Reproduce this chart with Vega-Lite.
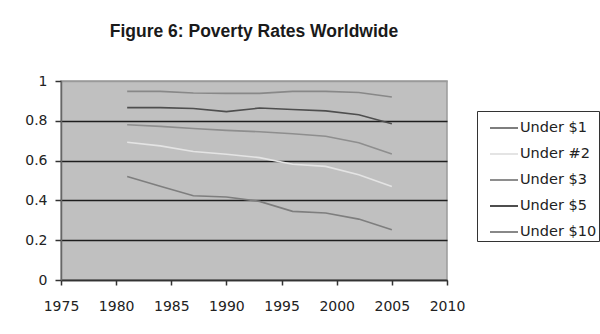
{
  "$schema": "https://vega.github.io/schema/vega-lite/v6.json",
  "autosize": "none",
  "width": 386,
  "height": 199,
  "padding": {"left": 61, "top": 81, "right": 153, "bottom": 54},
  "background": "white",
  "title": {
    "text": "Figure 6: Poverty Rates Worldwide",
    "font": "Liberation Sans",
    "fontSize": 17.5,
    "fontWeight": "bold",
    "color": "#1a1a1a",
    "anchor": "middle",
    "frame": "group",
    "offset": 34
  },
  "data": {
    "values": [
      {"year": 1981, "line": "Under $1", "rate": 0.52},
      {"year": 1984, "line": "Under $1", "rate": 0.471},
      {"year": 1987, "line": "Under $1", "rate": 0.423},
      {"year": 1990, "line": "Under $1", "rate": 0.417},
      {"year": 1993, "line": "Under $1", "rate": 0.395},
      {"year": 1996, "line": "Under $1", "rate": 0.345},
      {"year": 1999, "line": "Under $1", "rate": 0.337},
      {"year": 2002, "line": "Under $1", "rate": 0.306},
      {"year": 2005, "line": "Under $1", "rate": 0.252},
      {"year": 1981, "line": "Under #2", "rate": 0.692},
      {"year": 1984, "line": "Under #2", "rate": 0.674},
      {"year": 1987, "line": "Under #2", "rate": 0.646},
      {"year": 1990, "line": "Under #2", "rate": 0.632},
      {"year": 1993, "line": "Under #2", "rate": 0.615},
      {"year": 1996, "line": "Under #2", "rate": 0.582},
      {"year": 1999, "line": "Under #2", "rate": 0.571},
      {"year": 2002, "line": "Under #2", "rate": 0.529},
      {"year": 2005, "line": "Under #2", "rate": 0.47},
      {"year": 1981, "line": "Under $3", "rate": 0.78},
      {"year": 1984, "line": "Under $3", "rate": 0.772},
      {"year": 1987, "line": "Under $3", "rate": 0.761},
      {"year": 1990, "line": "Under $3", "rate": 0.752},
      {"year": 1993, "line": "Under $3", "rate": 0.745},
      {"year": 1996, "line": "Under $3", "rate": 0.735},
      {"year": 1999, "line": "Under $3", "rate": 0.722},
      {"year": 2002, "line": "Under $3", "rate": 0.69},
      {"year": 2005, "line": "Under $3", "rate": 0.633},
      {"year": 1981, "line": "Under $5", "rate": 0.866},
      {"year": 1984, "line": "Under $5", "rate": 0.866},
      {"year": 1987, "line": "Under $5", "rate": 0.862},
      {"year": 1990, "line": "Under $5", "rate": 0.846},
      {"year": 1993, "line": "Under $5", "rate": 0.864},
      {"year": 1996, "line": "Under $5", "rate": 0.857},
      {"year": 1999, "line": "Under $5", "rate": 0.85},
      {"year": 2002, "line": "Under $5", "rate": 0.83},
      {"year": 2005, "line": "Under $5", "rate": 0.785},
      {"year": 1981, "line": "Under $10", "rate": 0.948},
      {"year": 1984, "line": "Under $10", "rate": 0.948},
      {"year": 1987, "line": "Under $10", "rate": 0.94},
      {"year": 1990, "line": "Under $10", "rate": 0.938},
      {"year": 1993, "line": "Under $10", "rate": 0.938},
      {"year": 1996, "line": "Under $10", "rate": 0.948},
      {"year": 1999, "line": "Under $10", "rate": 0.948},
      {"year": 2002, "line": "Under $10", "rate": 0.942},
      {"year": 2005, "line": "Under $10", "rate": 0.92}
    ]
  },
  "mark": {"type": "line", "strokeWidth": 1.6, "clip": true},
  "encoding": {
    "x": {
      "field": "year",
      "type": "quantitative",
      "scale": {"domain": [1975, 2010], "nice": false, "zero": false},
      "axis": {
        "values": [1975, 1980, 1985, 1990, 1995, 2000, 2005, 2010],
        "format": "d",
        "title": null,
        "grid": false,
        "labelOverlap": false,
        "labelFlush": false,
        "domainColor": "#333",
        "domainWidth": 1.5,
        "tickColor": "#333",
        "tickWidth": 1.5,
        "tickSize": 5,
        "labelFont": "DejaVu Sans",
        "labelFontSize": 14,
        "labelColor": "#222",
        "labelPadding": 14
      }
    },
    "y": {
      "field": "rate",
      "type": "quantitative",
      "scale": {"domain": [0, 1], "nice": false},
      "axis": {
        "values": [0, 0.2, 0.4, 0.6, 0.8, 1],
        "format": ".1~f",
        "title": null,
        "grid": true,
        "gridColor": {"condition": {"test": "datum.value == 1", "value": "#9a9a9a"}, "value": "#1e1e1e"},
        "gridWidth": 1.5,
        "labelOverlap": false,
        "labelFlush": false,
        "domainColor": "#666",
        "domainWidth": 1.5,
        "tickColor": "#333",
        "tickWidth": 1.5,
        "tickSize": 6,
        "labelFont": "DejaVu Sans",
        "labelFontSize": 14,
        "labelColor": "#222",
        "labelPadding": 8
      }
    },
    "color": {
      "field": "line",
      "type": "nominal",
      "sort": ["Under $1", "Under #2", "Under $3", "Under $5", "Under $10"],
      "scale": {
        "domain": ["Under $1", "Under #2", "Under $3", "Under $5", "Under $10"],
        "range": ["#7e7e7e", "#e4e4e4", "#8e8e8e", "#4e4e4e", "#888888"]
      },
      "legend": {
        "title": null,
        "orient": "none",
        "legendX": 416,
        "legendY": 30,
        "symbolType": "stroke",
        "symbolSize": 784,
        "symbolStrokeWidth": 2,
        "symbolOffset": 10,
        "labelFont": "DejaVu Sans",
        "labelFontSize": 14.5,
        "labelColor": "#222",
        "labelOffset": 1,
        "rowPadding": 4,
        "padding": 2,
        "strokeColor": "#333",
        "fillColor": "white"
      }
    }
  },
  "config": {
    "view": {"fill": "#c0c0c0", "stroke": "#9a9a9a", "strokeWidth": 1.5}
  }
}
